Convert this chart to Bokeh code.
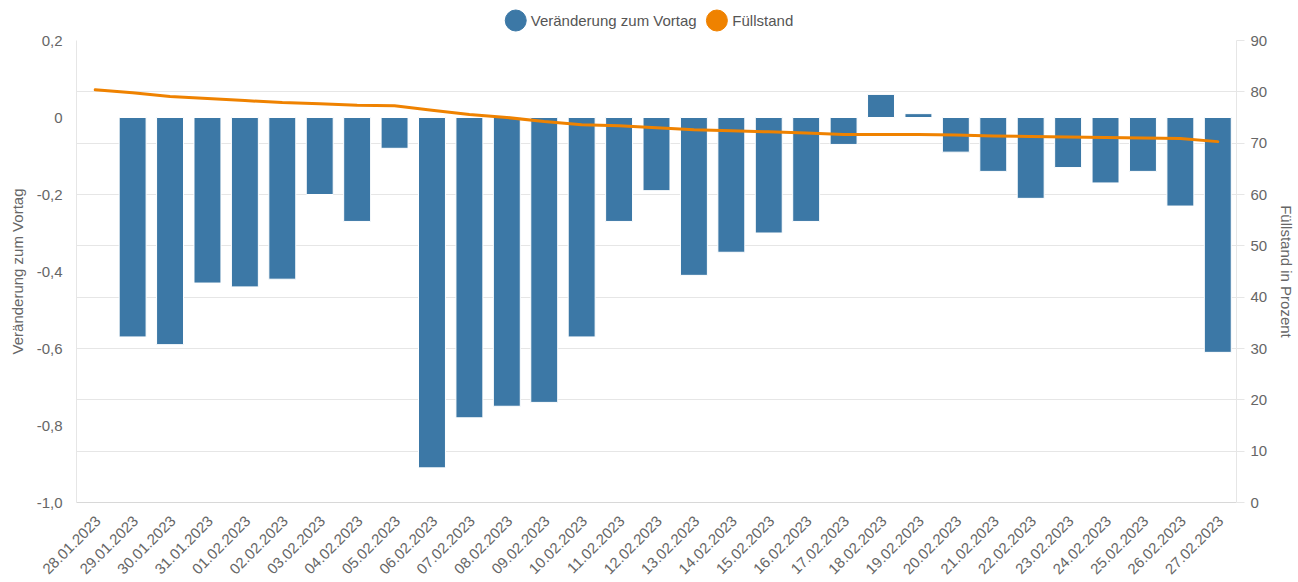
import math
from bokeh.plotting import figure
from bokeh.layouts import column
from bokeh.models import (Range1d, LinearAxis, FixedTicker, Grid, ColumnDataSource)
from bokeh.core.properties import value
from bokeh.embed import file_html
from bokeh.resources import INLINE

dates = ["28.01.2023", "29.01.2023", "30.01.2023", "31.01.2023", "01.02.2023",
         "02.02.2023", "03.02.2023", "04.02.2023", "05.02.2023", "06.02.2023",
         "07.02.2023", "08.02.2023", "09.02.2023", "10.02.2023", "11.02.2023",
         "12.02.2023", "13.02.2023", "14.02.2023", "15.02.2023", "16.02.2023",
         "17.02.2023", "18.02.2023", "19.02.2023", "20.02.2023", "21.02.2023",
         "22.02.2023", "23.02.2023", "24.02.2023", "25.02.2023", "26.02.2023",
         "27.02.2023"]

change = [float("nan"), -0.57, -0.59, -0.43, -0.44, -0.42, -0.20, -0.27, -0.08, -0.91,
          -0.78, -0.75, -0.74, -0.57, -0.27, -0.19, -0.41, -0.35, -0.30, -0.27,
          -0.07, 0.06, 0.01, -0.09, -0.14, -0.21, -0.13, -0.17, -0.14, -0.23,
          -0.61]

level = [80.4, 79.8, 79.1, 78.7, 78.3, 77.9, 77.7, 77.4, 77.3, 76.4,
         75.6, 75.0, 74.2, 73.6, 73.4, 73.0, 72.6, 72.4, 72.2, 72.0,
         71.7, 71.7, 71.7, 71.6, 71.4, 71.3, 71.2, 71.1, 71.0, 70.9,
         70.3]

series_names = ["Veränderung zum Vortag", "Füllstand"]
left_ticks = [0.2, 0.0, -0.2, -0.4, -0.6, -0.8, -1.0]
left_labels = ["0,2", "0", "-0,2", "-0,4", "-0,6", "-0,8", "-1,0"]
right_ticks = [0, 10, 20, 30, 40, 50, 60, 70, 80, 90]

BAR = "#3c78a6"
ORANGE = "#ef8200"
TXT = "#666666"
GRID = "#e6e6e6"
FONT = "Liberation Sans"
W = 1298
FRAME_L, FRAME_R = 76, 1238
LABEL_SHIFT = 0.08   # category units: rotated date labels sit slightly right of the bar centre

# ---------- legend strip (frame is aligned with the chart frame below) ----------
lf = figure(width=W, height=32, x_range=Range1d(FRAME_L, FRAME_R), y_range=Range1d(0, 32),
            output_backend="svg", toolbar_location=None, min_border=0,
            min_border_left=FRAME_L, min_border_right=W - FRAME_R,
            x_axis_location=None, y_axis_location=None)
lf.outline_line_color = None
lf.grid.visible = False
lf.scatter(x=[516, 717.5], y=[12, 12], marker="circle", size=21,
           fill_color=[BAR, ORANGE], line_color=[BAR, ORANGE])
lf.text(x=[531, 733], y=[12.5, 12.5], text=series_names, text_baseline="middle",
        text_align="left", text_font=value(FONT), text_font_size="15px",
        text_color="#555555")

# ---------- main chart ----------
n = len(dates)
xpos = [i + 0.5 for i in range(n)]          # category centres
src = ColumnDataSource(dict(x=xpos, date=dates, change=change, level=level))

p = figure(x_range=Range1d(0, n), y_range=Range1d(-1.0, 0.2),
           width=W, height=550, x_axis_location=None,
           output_backend="svg", toolbar_location=None,
           min_border_left=FRAME_L, min_border_top=8, min_border_right=W - FRAME_R,
           min_border_bottom=80)
p.extra_y_ranges = {"right": Range1d(0, 90)}
p.outline_line_color = None

p.xgrid.visible = False
p.ygrid.visible = False
g = Grid(dimension=1, ticker=FixedTicker(ticks=right_ticks), y_range_name="right",
         grid_line_color=GRID, grid_line_width=1)
p.add_layout(g)

p.vbar(x="x", top="change", bottom=0, width=0.72, source=src,
       fill_color=BAR, line_color="white", line_width=1)
p.line(x="x", y="level", source=src, y_range_name="right",
       line_color=ORANGE, line_width=3, line_join="round", line_cap="round")

# left axis
ya = p.yaxis[0]
ya.ticker = FixedTicker(ticks=left_ticks)
ya.major_label_overrides = {t: l for t, l in zip(left_ticks, left_labels)}
ya.axis_label = series_names[0]
ya.axis_line_color = GRID
ya.major_tick_line_color = None
ya.major_tick_out = 0
ya.major_tick_in = 0
ya.minor_tick_line_color = None
ya.major_label_text_color = TXT
ya.major_label_text_font = FONT
ya.major_label_text_font_size = "15px"
ya.major_label_standoff = 14
ya.axis_label_text_color = TXT
ya.axis_label_text_font = FONT
ya.axis_label_text_font_size = "15px"
ya.axis_label_text_font_style = "normal"
ya.axis_label_standoff = 8

# right axis
ra = LinearAxis(y_range_name="right", ticker=FixedTicker(ticks=right_ticks),
                axis_label="Füllstand in Prozent")
ra.axis_line_color = GRID
ra.major_tick_line_color = GRID
ra.major_tick_out = 8
ra.major_tick_in = 0
ra.minor_tick_line_color = None
ra.major_label_text_color = TXT
ra.major_label_text_font = FONT
ra.major_label_text_font_size = "15px"
ra.major_label_standoff = 6
ra.axis_label_text_color = TXT
ra.axis_label_text_font = FONT
ra.axis_label_text_font_size = "15px"
ra.axis_label_text_font_style = "normal"
ra.axis_label_standoff = 8
p.add_layout(ra, "right")

# bottom axis: date labels, nudged slightly right of the bar centres like the original
tick_pos = [round(x + LABEL_SHIFT, 3) for x in xpos]
xa = LinearAxis(ticker=FixedTicker(ticks=tick_pos),
                major_label_overrides={t: d for t, d in zip(tick_pos, dates)})
xa.axis_line_color = "#d8d8d8"
xa.major_tick_line_color = None
xa.major_tick_out = 0
xa.major_tick_in = 0
xa.minor_tick_line_color = None
xa.major_label_orientation = math.pi / 4
xa.major_label_text_color = TXT
xa.major_label_text_font = FONT
xa.major_label_text_font_size = "15px"
xa.major_label_standoff = 16
p.add_layout(xa, "below")

layout = column(lf, p, spacing=0)
open("out.html", "w").write(file_html(layout, INLINE))
